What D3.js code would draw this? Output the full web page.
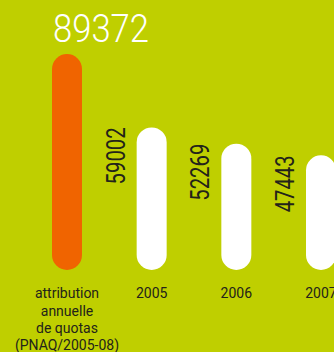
<!DOCTYPE html>
<html>
<head>
<meta charset="utf-8">
<script src="https://cdn.jsdelivr.net/npm/d3@7"></script>
<style>
  html, body { margin: 0; padding: 0; background: #bfcf00; }
  svg { display: block; }
</style>
</head>
<body>
<script>
// Annual CO2 quota allocation vs. verified emissions per year
const categories = ["attribution annuelle de quotas (PNAQ/2005-08)", "2005", "2006", "2007"];
const categoryLines = [["attribution", "annuelle", "de quotas", "(PNAQ/2005-08)"], ["2005"], ["2006"], ["2007"]];
const values = [89372, 59002, 52269, 47443];
const valueLabels = ["89372", "59002", "52269", "47443"];

const W = 334, H = 352;
const bg = "#bfcf00", orange = "#f06400", white = "#ffffff", ink = "#23231a";
const font = "Roboto, 'DejaVu Sans Condensed', sans-serif";

const svg = d3.select("body").append("svg").attr("width", W).attr("height", H);
svg.append("rect").attr("width", W).attr("height", H).attr("fill", bg);

const x = d3.scalePoint().domain(categories).range([67, 321]);
const y = d3.scaleLinear().domain([0, 89372]).range([270, 54]);
const barW = 30;

// rounded bars
svg.selectAll("rect.bar").data(values).join("rect")
  .attr("class", "bar")
  .attr("x", (d, i) => x(categories[i]) - barW / 2)
  .attr("y", d => y(d))
  .attr("width", barW)
  .attr("height", d => y(0) - y(d))
  .attr("rx", barW / 2)
  .attr("fill", (d, i) => i === 0 ? orange : white);

// value of the allocation bar, set large above it
svg.append("text")
  .attr("x", x(categories[0]) - barW / 2 + 1)
  .attr("y", 41.7)
  .attr("fill", white)
  .attr("font-family", font)
  .attr("font-size", 39)
  .attr("font-weight", 300)
  .attr("textLength", 96)
  .attr("lengthAdjust", "spacingAndGlyphs")
  .text(valueLabels[0]);

// yearly values, rotated alongside their bars
svg.selectAll("text.val").data(values.slice(1)).join("text")
  .attr("class", "val")
  .attr("transform", (d, i) => `translate(${x(categories[i + 1]) - 27},${y(d)}) rotate(-90)`)
  .attr("text-anchor", "end")
  .attr("fill", ink)
  .attr("font-family", font)
  .attr("font-size", 25.5)
  .attr("textLength", 57)
  .attr("lengthAdjust", "spacingAndGlyphs")
  .text((d, i) => valueLabels[i + 1]);

// category labels under the bars
const cat = svg.selectAll("text.cat").data(categories).join("text")
  .attr("class", "cat")
  .attr("x", d => x(d))
  .attr("y", 298.3)
  .attr("text-anchor", "middle")
  .attr("fill", ink)
  .attr("font-family", font)
  .attr("font-size", 14);
cat.selectAll("tspan").data((d, i) => categoryLines[i]).join("tspan")
  .attr("x", function () { return d3.select(this.parentNode).attr("x"); })
  .attr("dy", (d, j) => j === 0 ? 0 : 17.3)
  .text(d => d);
</script>
</body>
</html>
